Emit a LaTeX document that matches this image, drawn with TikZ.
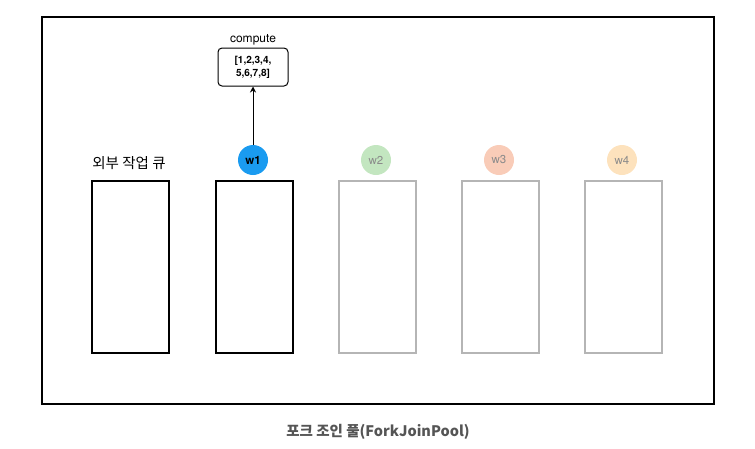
\documentclass[tikz,border=0pt]{standalone}
\usepackage{fontspec}
\setmainfont{TeX Gyre Heros}
\newfontfamily\kr{Noto Sans CJK KR}
\usetikzlibrary{arrows.meta}
\definecolor{wblue}{HTML}{1A9BF0}
\definecolor{wgreen}{HTML}{C3E6C0}
\definecolor{wred}{HTML}{F9CCB8}
\definecolor{worange}{HTML}{FDE2BD}
\definecolor{qgray}{HTML}{B5B5B5}
\definecolor{tgray}{HTML}{8A8A8A}
\definecolor{ttitle}{HTML}{555555}
\begin{document}
\begin{tikzpicture}[x=1pt,y=-1pt,
  queue/.style={draw=black,line width=2pt,minimum width=77pt,minimum height=172pt,inner sep=0pt},
  gqueue/.style={queue,draw=qgray},
  worker/.style={circle,minimum size=30pt,inner sep=0pt,font=\fontsize{11.5}{12}\selectfont},
  lbl/.style={inner sep=0pt}]
\useasboundingbox (0,0) rectangle (755,448);
\draw[line width=1.5pt] (42,17) rectangle (714,404);
\node[queue,anchor=north west] (q0) at (91,180) {};
\node[queue,anchor=north west] (q1) at (215,180) {};
\node[gqueue,anchor=north west] (q2) at (338,180) {};
\node[gqueue,anchor=north west] (q3) at (461,180) {};
\node[gqueue,anchor=north west] (q4) at (584,180) {};
\node[lbl,font=\kr\fontsize{14.5}{16}\selectfont] (ql) at (129,163) {외부 작업 큐};
\node[worker,fill=wblue,font=\bfseries\fontsize{11.5}{12}\selectfont] (w1) at (253,160) {w1};
\node[worker,fill=wgreen,text=tgray] (w2) at (376,160) {w2};
\node[worker,fill=wred,text=tgray] (w3) at (499,160) {w3};
\node[worker,fill=worange,text=tgray] (w4) at (622,160) {w4};
\node[draw,rounded corners=4pt,line width=1pt,minimum width=70pt,minimum height=38pt,align=center,inner sep=2pt,font=\bfseries\fontsize{10}{13}\selectfont] (cb) at (253,67) {[1,2,3,4,\\5,6,7,8]};
\node[lbl,font=\fontsize{12}{13}\selectfont,anchor=south] (cl) at (253,45) {compute};
\draw[-{Stealth[length=6pt,width=6pt]},line width=1pt] (w1) -- (cb);
\node[lbl,text=ttitle,font=\kr\bfseries\fontsize{14.5}{16}\selectfont] (title) at (378,432) {포크 조인 풀(ForkJoinPool)};
\end{tikzpicture}
\end{document}
